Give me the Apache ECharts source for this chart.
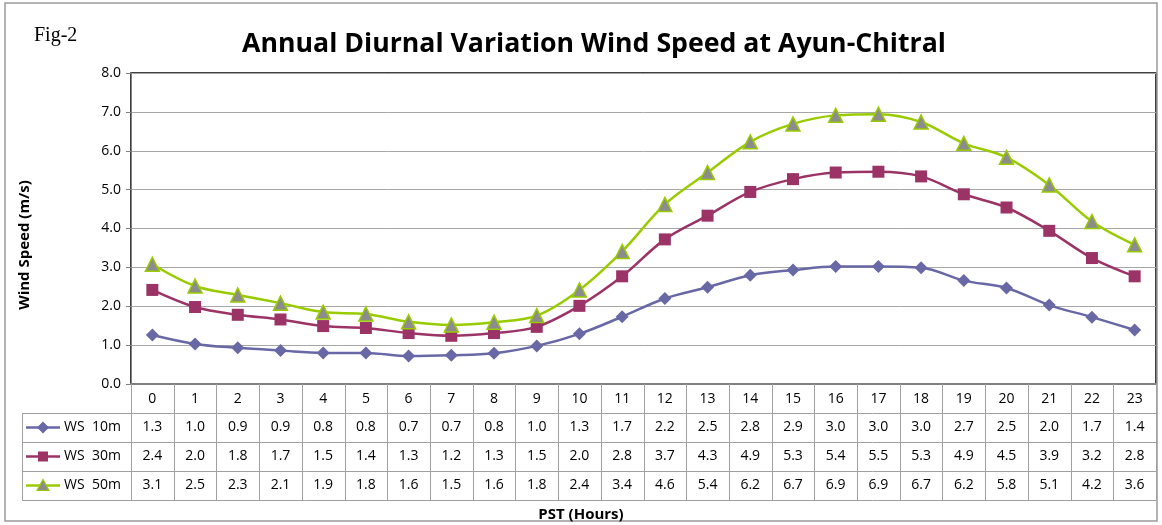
<!DOCTYPE html>
<html><head><meta charset="utf-8">
<script src="https://cdn.jsdelivr.net/npm/echarts@6/dist/echarts.min.js"></script>
<style>html,body{margin:0;padding:0;background:#fff}#c{width:1162px;height:525px}</style>
</head><body><div id="c"></div>
<script>
const hours = ['0','1','2','3','4','5','6','7','8','9','10','11','12','13','14','15','16','17','18','19','20','21','22','23'];
const ws10 = [1.26,1.03,0.93,0.86,0.80,0.80,0.72,0.74,0.79,0.98,1.29,1.73,2.20,2.49,2.80,2.93,3.02,3.02,2.99,2.66,2.47,2.03,1.72,1.39];
const ws30 = [2.42,1.98,1.78,1.66,1.49,1.44,1.31,1.24,1.31,1.47,2.01,2.77,3.72,4.33,4.94,5.27,5.44,5.46,5.34,4.88,4.54,3.94,3.24,2.77];
const ws50 = [3.08,2.52,2.29,2.08,1.85,1.80,1.60,1.52,1.59,1.76,2.42,3.41,4.62,5.44,6.23,6.69,6.91,6.94,6.74,6.19,5.83,5.12,4.18,3.58];
const seriesNames = ['WS  10m','WS  30m','WS  50m'];
const yMin = 0, yMax = 8, yStep = 1;

const C10 = '#6868a6', C30 = '#9c3366', C50 = '#99cc00', TRI = '#8c8c8c';
const FONT = 'Open Sans';
const FS = 14;
const chart = echarts.init(document.getElementById('c'));

const mk = (name, data, color, symbol, size, fill, bw) => ({
  name, type: 'line', data, smooth: 0.35, symbol, symbolSize: size,
  lineStyle: {color, width: 2.5},
  itemStyle: {color: fill, borderColor: color, borderWidth: bw},
  z: 5
});

chart.setOption({
  animation: false,
  textStyle: {fontFamily: FONT},
  title: {text: 'Annual Diurnal Variation Wind Speed at Ayun-Chitral', left: 237, top: 26,
    textStyle: {fontSize: 26.7, fontWeight: 'bold', color: '#000', fontFamily: FONT}},
  grid: {left: 131, right: 6, top: 73, bottom: 141, show: true, borderColor: '#000', borderWidth: 1.5,
    containLabel: false, outerBoundsMode: 'none'},
  xAxis: {type: 'category', data: hours, boundaryGap: true,
    axisLine: {lineStyle: {color: '#808080', width: 2}},
    axisTick: {show: false},
    axisLabel: {margin: 8, fontSize: FS, color: '#000', fontFamily: FONT}},
  yAxis: {type: 'value', min: yMin, max: yMax, interval: yStep,
    axisLine: {show: true, lineStyle: {color: '#808080', width: 1}},
    axisTick: {show: true, length: 5, lineStyle: {color: '#808080'}},
    splitLine: {lineStyle: {color: '#a6a6a6', width: 1}},
    axisLabel: {formatter: v => v.toFixed(1), fontSize: FS, color: '#000', margin: 10, fontFamily: FONT}},
  series: [
    mk(seriesNames[0], ws10, C10, 'diamond', 13, C10, 0),
    mk(seriesNames[1], ws30, C30, 'rect', 12, C30, 0),
    mk(seriesNames[2], ws50, C50, 'triangle', 14, TRI, 1.5)
  ]
});

// Data table built from the arrays, positioned via the axis scale
const x0 = chart.convertToPixel({xAxisIndex: 0}, 0);
const x1 = chart.convertToPixel({xAxisIndex: 0}, 1);
const cw = x1 - x0;
const left = x0 - cw / 2, right = left + cw * hours.length;
const yAxisBase = chart.convertToPixel({yAxisIndex: 0}, yMin);
const rowH = 29;
const tableBottom = yAxisBase + 4 * rowH;
const legL = 22;
const G = [];
const lc = '#a0a0a0';
G.push({type: 'rect', shape: {x: 5, y: 3, width: 1152, height: 518}, style: {fill: 'none', stroke: '#9a9a9a', lineWidth: 1.5}});
G.push({type: 'text', left: 34, top: 26, style: {text: 'Fig-2', font: '20px "Liberation Serif", serif', fill: '#000'}});
G.push({type: 'text', x: 581, y: 515, style: {text: 'PST (Hours)', font: 'bold 15px "' + FONT + '"', fill: '#000', textAlign: 'center', textVerticalAlign: 'middle'}});
G.push({type: 'text', x: 25, y: 245, rotation: Math.PI / 2, style: {text: 'Wind Speed (m/s)', font: 'bold 15px "' + FONT + '"', fill: '#000', textAlign: 'center', textVerticalAlign: 'middle'}});
for (let i = 0; i <= hours.length; i++) {
  const x = Math.round(left + i * cw) + 0.5;
  G.push({type: 'line', shape: {x1: x, y1: yAxisBase, x2: x, y2: tableBottom}, style: {stroke: lc, lineWidth: 1}});
}
for (let r = 1; r <= 4; r++) {
  const y = Math.round(yAxisBase + r * rowH) + 0.5;
  G.push({type: 'line', shape: {x1: legL, y1: y, x2: right, y2: y}, style: {stroke: lc, lineWidth: 1}});
}
G.push({type: 'line', shape: {x1: legL + 0.5, y1: yAxisBase + rowH, x2: legL + 0.5, y2: tableBottom}, style: {stroke: lc, lineWidth: 1}});
const allSeries = [ws10, ws30, ws50];
const colors = [C10, C30, C50];
allSeries.forEach((arr, r) => {
  const cy = yAxisBase + rowH * (r + 1) + rowH / 2;
  arr.forEach((v, i) => {
    G.push({type: 'text', x: left + cw * i + cw / 2, y: cy, style: {text: v.toFixed(1), font: FS + 'px "' + FONT + '"', fill: '#000', textAlign: 'center', textVerticalAlign: 'middle'}});
  });
  G.push({type: 'line', shape: {x1: 26, y1: cy, x2: 60, y2: cy}, style: {stroke: colors[r], lineWidth: 2.5}});
  if (r === 0) G.push({type: 'polygon', shape: {points: [[43, cy - 6], [49, cy], [43, cy + 6], [37, cy]]}, style: {fill: C10}});
  if (r === 1) G.push({type: 'rect', shape: {x: 38, y: cy - 5, width: 10, height: 10}, style: {fill: C30}});
  if (r === 2) G.push({type: 'polygon', shape: {points: [[43, cy - 6], [49, cy + 5], [37, cy + 5]]}, style: {fill: TRI, stroke: C50, lineWidth: 1.2}});
  G.push({type: 'text', x: 64, y: cy, style: {text: seriesNames[r], font: FS + 'px "' + FONT + '"', fill: '#000', textAlign: 'left', textVerticalAlign: 'middle'}});
});
chart.setOption({graphic: G.map(g => Object.assign({silent: true, z: 10}, g))});
</script></body></html>
